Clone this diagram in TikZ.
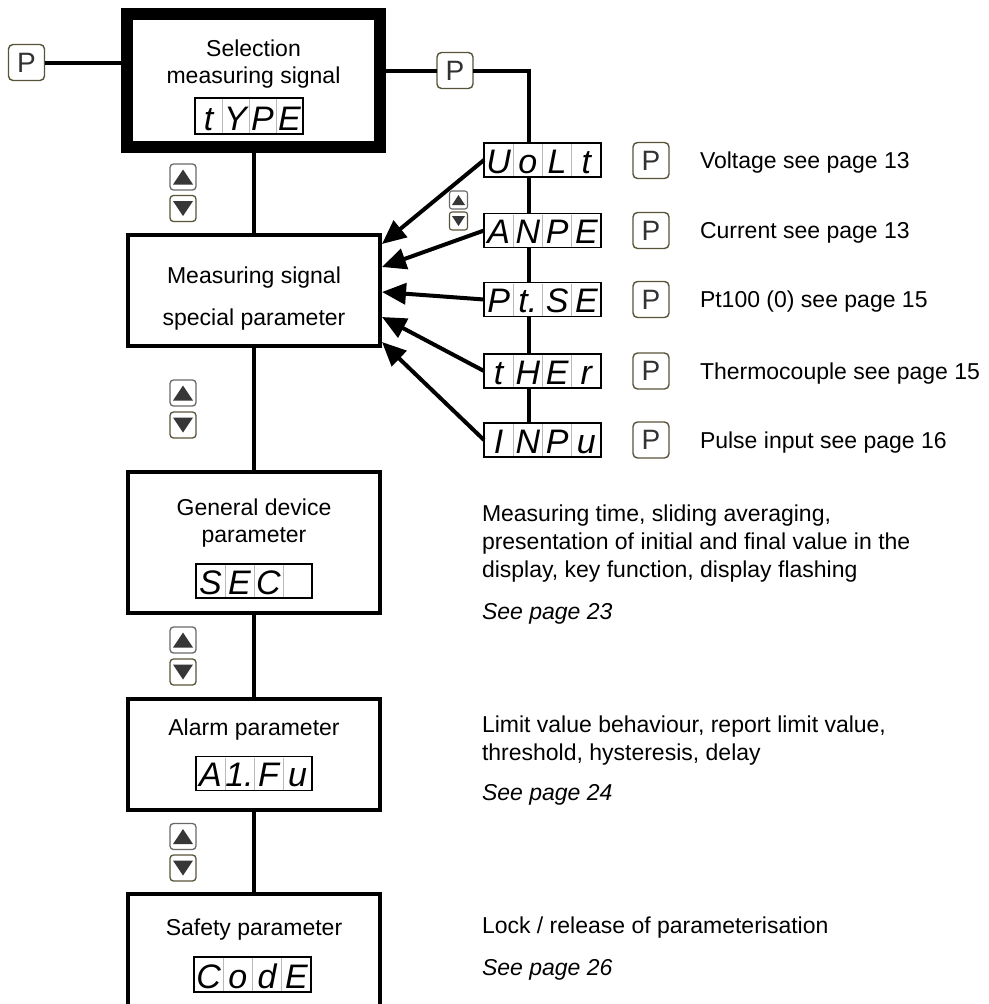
\documentclass[tikz,border=0pt]{standalone}
\usepackage{fontspec}
\setmainfont{Liberation Sans}
\newfontfamily\segfnt{Liberation Sans}
\usetikzlibrary{arrows.meta,calc}
\definecolor{btnedge}{RGB}{88,84,58}
\definecolor{btnup}{RGB}{105,105,105}
\definecolor{trifill}{RGB}{55,55,55}
\definecolor{ptext}{RGB}{50,50,50}
\definecolor{cellgray}{RGB}{185,185,185}
\tikzset{
 every node/.style={inner sep=0pt, outer sep=0pt},
 topbox/.style={draw=black, line width=12pt, fill=white, minimum width=253pt, minimum height=133pt},
 mainbox/.style={draw=black, line width=4pt, fill=white, minimum width=252pt},
 conn/.style={line width=4pt, draw=black},
 arr/.style={line width=4pt, draw=black, -{Triangle[length=24pt,width=21pt]}},
 lbl/.style={font=\fontsize{23}{27}\selectfont, anchor=base},
 desc/.style={font=\fontsize{23}{27}\selectfont, anchor=base west},
 seepage/.style={font=\fontsize{23}{27}\selectfont\itshape, anchor=base west},
 pbtn/.style={draw=btnedge, line width=1.4pt, rounded corners=4.5pt, fill=white, minimum width=36pt, minimum height=36pt, text=ptext, font=\fontsize{28}{28}\selectfont},
 upbtn/.style={draw=btnup, line width=1.3pt, rounded corners=3.5pt, fill=white, minimum width=26pt, minimum height=26pt},
 dnbtn/.style={upbtn, draw=btnedge},
 supbtn/.style={upbtn, minimum width=18pt, minimum height=18pt, rounded corners=2.5pt, line width=1.1pt},
 sdnbtn/.style={supbtn, draw=btnedge},
 dispbox/.style={draw=black, line width=1.2pt, fill=white},
 cellsep/.style={draw=cellgray, line width=0.8pt},
 segchar/.style={font=\segfnt\itshape\fontsize{34}{34}\selectfont, anchor=base, text=black},
}
% up/down button pair: name, x, y of up button, spacing
\newcommand\updownpair[4]{%
 \node[upbtn] (#1u) at (#2,#3) {};
 \node[dnbtn] (#1d) at (#2,#3+#4) {};
 \fill[trifill] ($(#1u.center)+(-10,7.5)$) -- ($(#1u.center)+(10,7.5)$) -- ($(#1u.center)+(0,-7.5)$) -- cycle;
 \fill[trifill] ($(#1d.center)+(-10,-7.5)$) -- ($(#1d.center)+(10,-7.5)$) -- ($(#1d.center)+(0,7.5)$) -- cycle;
}
% seven-segment display: name, cx, cy, w, h, four cells
\newcommand\segdisp[9]{%
 \node[dispbox, minimum width=#4pt, minimum height=#5pt] (#1) at (#2,#3) {};
 \foreach \k in {1,2,3}{\draw[cellsep] ($(#1.north west)!\k/4!(#1.north east)+(0,1)$) -- ($(#1.south west)!\k/4!(#1.south east)+(0,-1)$);}
 \node[segchar] (#1a) at ($(#1.south west)!0.125!(#1.south east)+(0,-4)$) {#6};
 \node[segchar] (#1b) at ($(#1.south west)!0.375!(#1.south east)+(0,-4)$) {#7};
 \node[segchar] (#1c) at ($(#1.south west)!0.625!(#1.south east)+(0,-4)$) {#8};
 \node[segchar] (#1d) at ($(#1.south west)!0.875!(#1.south east)+(0,-4)$) {#9};
}
\begin{document}
\begin{tikzpicture}[x=1pt, y=-1pt]
\useasboundingbox (0,0) rectangle (988,1004);
\clip (0,0) rectangle (988,1004);
\fill[white] (0,0) rectangle (988,1004);

% main boxes
\node[topbox] (top) at (253.5,80.5) {};
\node[mainbox, minimum height=111pt] (meas) at (254,290.5) {};
\node[mainbox, minimum height=141pt] (gen) at (254,542.5) {};
\node[mainbox, minimum height=111pt] (alarm) at (254,754.5) {};
\node[mainbox, minimum height=146pt] (safe) at (254,967) {};

% vertical connectors between boxes
\draw[conn] (top.south) -- (top.south |- meas.north);
\draw[conn] (meas.south) -- (gen.north);
\draw[conn] (gen.south) -- (alarm.north);
\draw[conn] (alarm.south) -- (safe.north);

% box labels
\node[lbl] (l1a) at (253.5,56) {Selection};
\node[lbl] (l1b) at (253.5,83) {measuring signal};
\node[lbl] (l2a) at (254,283) {Measuring signal};
\node[lbl] (l2b) at (254,325) {special parameter};
\node[lbl] (l3a) at (254,515) {General device};
\node[lbl] (l3b) at (254,542) {parameter};
\node[lbl] (l4a) at (254,735) {Alarm parameter};
\node[lbl] (l5a) at (254,935) {Safety parameter};

% displays in boxes
\segdisp{dtype}{249}{116}{108}{36}{t}{Y}{P}{E}
\segdisp{dsec}{254}{581}{116}{34}{S}{E}{C}{}
\segdisp{dafu}{254}{773.5}{116}{34}{A}{1.}{F}{u}
\segdisp{dcode}{252.5}{974.5}{117}{35}{C}{o}{d}{E}

% P buttons at top
\node[pbtn] (lp) at (26.5,62.5) {P};
\node[pbtn] (rp) at (455,70.5) {P};
\draw[conn] (lp.east) -- (lp.east -| top.west);
\draw[conn] (top.east |- rp.west) -- (rp.west);

% right displays
\segdisp{uolt}{542.5}{160}{117}{34}{U}{o}{L}{t}
\segdisp{anpe}{542.5}{230.5}{117}{34}{A}{N}{P}{E}
\segdisp{ptse}{542.5}{299.5}{117}{34}{P}{t.}{S}{E}
\segdisp{ther}{542.5}{371}{117}{34}{t}{H}{E}{r}
\segdisp{inpu}{542.5}{440}{117}{34}{I}{N}{P}{u}

\coordinate (vtop) at (529,143);
\draw[conn] (rp.east) -| (vtop);
\draw[conn] (uolt.south -| vtop) -- (anpe.north -| vtop);
\draw[conn] (anpe.south -| vtop) -- (ptse.north -| vtop);
\draw[conn] (ptse.south -| vtop) -- (ther.north -| vtop);
\draw[conn] (ther.south -| vtop) -- (inpu.north -| vtop);

% arrows into measuring box
\coordinate (t1) at (382,244);
\coordinate (t2) at (382,267);
\coordinate (t3) at (382,292);
\coordinate (t4) at (382,317);
\coordinate (t5) at (382,342);
\draw[arr] (uolt.west) -- (t1);
\draw[arr] (anpe.west) -- (t2);
\draw[arr] (ptse.west) -- (t3);
\draw[arr] (ther.west) -- (t4);
\draw[arr] (inpu.west) -- (t5);

% right P buttons and labels
\node[pbtn] (p1) at (651,160.5) {P};
\node[pbtn] (p2) at (651,230.5) {P};
\node[pbtn] (p3) at (651,299.5) {P};
\node[pbtn] (p4) at (651,371) {P};
\node[pbtn] (p5) at (651,440) {P};
\node[desc] (r1) at (700,168.5) {Voltage see page 13};
\node[desc] (r2) at (700,238.5) {Current see page 13};
\node[desc] (r3) at (700,307.5) {Pt100 (0) see page 15};
\node[desc] (r4) at (700,379) {Thermocouple see page 15};
\node[desc] (r5) at (700,448) {Pulse input see page 16};

% up/down buttons
\updownpair{ud1}{183}{177}{31.5}
\updownpair{ud2}{183}{393}{32}
\updownpair{ud3}{183}{640}{32}
\updownpair{ud4}{183}{836.5}{31.5}
\node[supbtn] (sud) at (458.5,200) {};
\node[sdnbtn] (sdd) at (458.5,221) {};
\fill[trifill] ($(sud.center)+(-6.5,5)$) -- ($(sud.center)+(6.5,5)$) -- ($(sud.center)+(0,-5)$) -- cycle;
\fill[trifill] ($(sdd.center)+(-6.5,-5)$) -- ($(sdd.center)+(6.5,-5)$) -- ($(sdd.center)+(0,5)$) -- cycle;

% descriptions
\node[desc] (d1) at (482,521.5) {Measuring time, sliding averaging,};
\node[desc] (d2) at (482,549) {presentation of initial and final value in the};
\node[desc] (d3) at (482,577) {display, key function, display flashing};
\node[seepage] (d4) at (482,619) {See page 23};
\node[desc] (d5) at (482,732) {Limit value behaviour, report limit value,};
\node[desc] (d6) at (482,760) {threshold, hysteresis, delay};
\node[seepage] (d7) at (482,800) {See page 24};
\node[desc] (d8) at (482,933) {Lock / release of parameterisation};
\node[seepage] (d9) at (482,975) {See page 26};
\end{tikzpicture}
\end{document}
